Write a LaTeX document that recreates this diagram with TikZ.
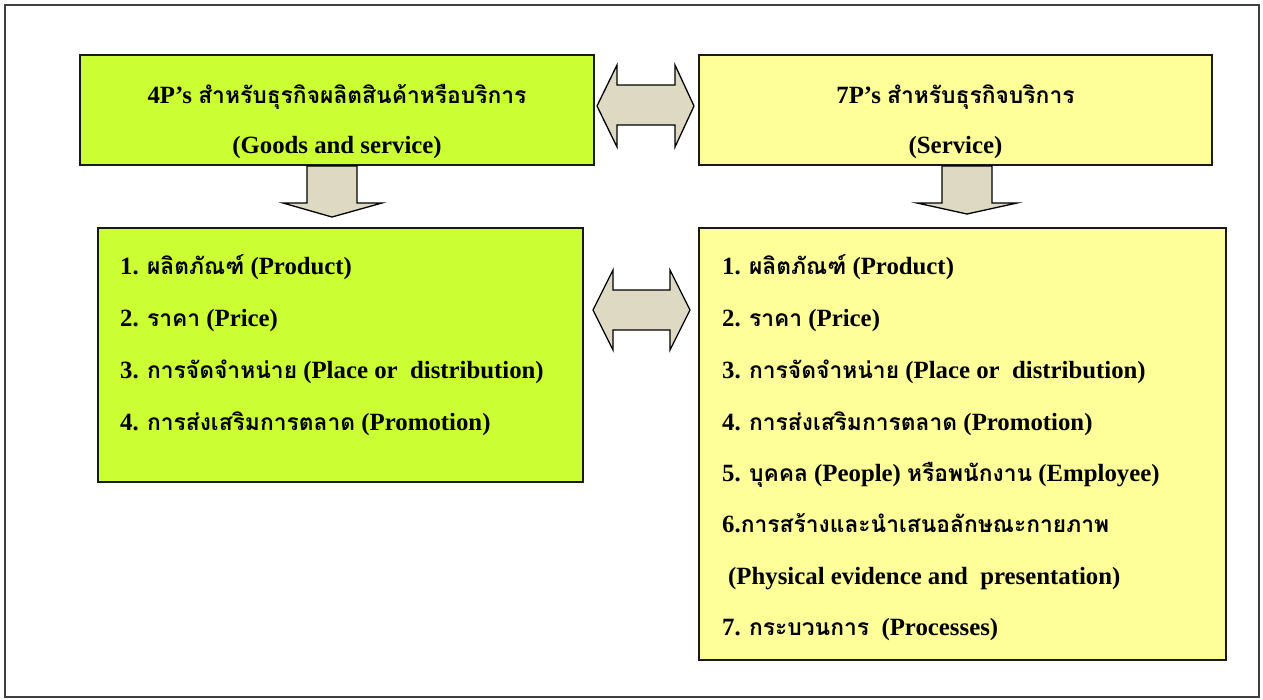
\documentclass[tikz,border=0pt]{standalone}
\usepackage{fontspec}
\setmainfont{Liberation Serif}
\newfontfamily\thaifont[Script=Thai,Scale=0.92]{Loma}
\newcommand{\tha}[1]{{\thaifont #1}}
\definecolor{gfill}{HTML}{CCFF33}
\definecolor{yfill}{HTML}{FFFF99}
\definecolor{afill}{HTML}{DDD9C3}
\tikzset{
  box/.style={draw=black!90, line width=1.6pt, inner sep=0pt, outer sep=0pt},
  gbox/.style={box, fill=gfill},
  ybox/.style={box, fill=yfill},
  blk/.style={draw=black, line width=1.3pt, fill=afill, line join=miter},
  txt/.style={inner sep=0pt, font=\fontsize{24.8}{30}\selectfont\bfseries},
}
\begin{document}
\begin{tikzpicture}[x=1pt,y=-1pt]
\useasboundingbox (0,0) rectangle (1263,699);
\draw[black!75, line width=1.2pt] (5,5) rectangle (1259,697);
% boxes
\node[gbox, minimum width=514pt, minimum height=110pt] (tl) at (337,110) {};
\node[ybox, minimum width=513pt, minimum height=110pt] (tr) at (955.5,110) {};
\node[gbox, minimum width=485pt, minimum height=254pt] (bl) at (340.5,355) {};
\node[ybox, minimum width=527pt, minimum height=432pt] (br) at (962.5,444) {};
% block arrows
\draw[blk] (597,106) -- (617,65) -- (617,85) -- (675,85) -- (675,65) -- (694,106)
  -- (675,147) -- (675,125) -- (617,125) -- (617,147) -- cycle;
\draw[blk] (593,310) -- (613,270) -- (613,290) -- (670,290) -- (670,270) -- (690,310)
  -- (670,350) -- (670,330) -- (613,330) -- (613,350) -- cycle;
\draw[blk] (307,166) -- (357,166) -- (357,203) -- (382,203) -- (332,217) -- (283,203) -- (307,203) -- cycle;
\draw[blk] (942,166) -- (992,166) -- (992,203) -- (1017,203) -- (967,214) -- (917,203) -- (942,203) -- cycle;
% headings
\node[txt, anchor=base] (h1) at (337,103) {4P’s \tha{สำหรับธุรกิจผลิตสินค้าหรือบริการ}};
\node[txt, anchor=base] (h2) at (337,153) {(Goods and service)};
\node[txt, anchor=base] (h3) at (955.5,103) {7P’s \tha{สำหรับธุรกิจบริการ}};
\node[txt, anchor=base] (h4) at (955.5,153) {(Service)};
% left items
\node[txt, anchor=base west] (l1) at (120,274) {1. \tha{ผลิตภัณฑ์} (Product)};
\node[txt, anchor=base west] (l2) at (120,326) {2. \tha{ราคา} (Price)};
\node[txt, anchor=base west] (l3) at (120,378) {3. \tha{การจัดจำหน่าย} (Place or\ \ distribution)};
\node[txt, anchor=base west] (l4) at (120,430) {4. \tha{การส่งเสริมการตลาด} (Promotion)};
% right items
\node[txt, anchor=base west] (r1) at (722,274) {1. \tha{ผลิตภัณฑ์} (Product)};
\node[txt, anchor=base west] (r2) at (722,326) {2. \tha{ราคา} (Price)};
\node[txt, anchor=base west] (r3) at (722,378) {3. \tha{การจัดจำหน่าย} (Place or\ \ distribution)};
\node[txt, anchor=base west] (r4) at (722,430) {4. \tha{การส่งเสริมการตลาด} (Promotion)};
\node[txt, anchor=base west] (r5) at (722,481) {5. \tha{บุคคล} (People) \tha{หรือพนักงาน} (Employee)};
\node[txt, anchor=base west] (r6) at (722,532) {6.\tha{การสร้างและนำเสนอลักษณะกายภาพ}};
\node[txt, anchor=base west] (r7) at (728,584) {(Physical evidence and\ \ presentation)};
\node[txt, anchor=base west] (r8) at (722,635) {7. \tha{กระบวนการ}\ \ (Processes)};
\end{tikzpicture}
\end{document}
